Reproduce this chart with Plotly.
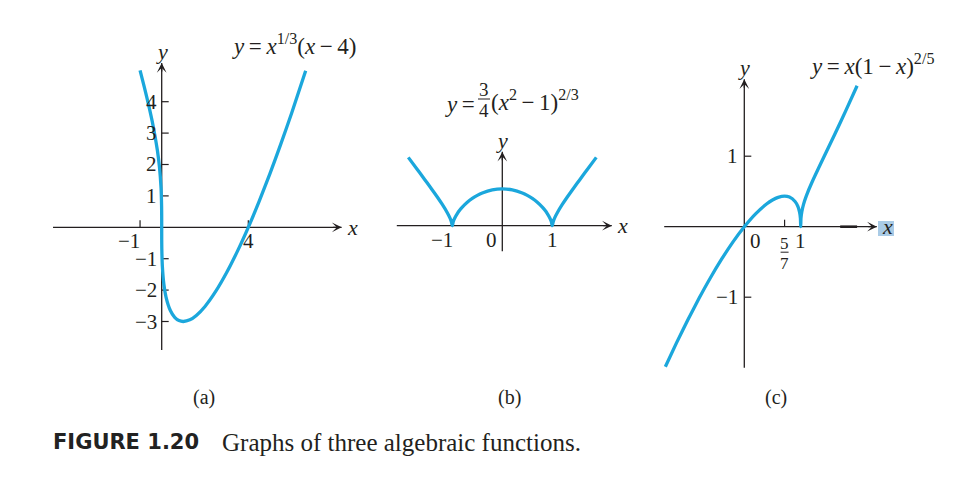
import plotly.graph_objects as go

# Page body has an 8px margin: draw a 951x469 figure and map reference pixels with an 8px offset.
REF_W, REF_H = 967, 485
OFF = 8
W, H = REF_W - 2 * OFF, REF_H - 2 * OFF

# ---------------- data (sampled points read from the three curves) ----------------
# (a) y = x^(1/3)(x-4)
xa = [-1, -0.8, -0.6, -0.4, -0.2, -0.1, -0.03, -0.005, -0.001, 0, 0.001, 0.005, 0.03, 0.1,
      0.2, 0.4, 0.6, 0.8, 1, 1.3, 1.6, 2, 2.5, 3, 3.5, 4, 4.5, 5, 5.5, 6, 6.65]
ya = [5.0, 4.456, 3.880, 3.242, 2.456, 1.903, 1.252, 0.685, 0.400, 0.0, -0.400, -0.683, -1.233, -1.810,
      -2.222, -2.652, -2.868, -2.971, -3.0, -2.947, -2.807, -2.520, -2.036, -1.442, -0.759, 0.0,
      0.826, 1.710, 2.648, 3.634, 4.984]

# (b) y = 3/4 (x^2-1)^(2/3)
xb = [-1.88, -1.7, -1.6, -1.5, -1.4, -1.3, -1.2, -1.1, -1.05, -1.02, -1, -0.98, -0.95, -0.9, -0.85,
      -0.8, -0.7, -0.6, -0.5, -0.4, -0.2, 0, 0.2, 0.4, 0.5, 0.6, 0.7, 0.8, 0.85, 0.9, 0.95, 0.98,
      1, 1.02, 1.05, 1.1, 1.2, 1.3, 1.4, 1.5, 1.6, 1.7, 1.88]
yb = [1.394, 1.147, 1.009, 0.870, 0.730, 0.586, 0.434, 0.265, 0.164, 0.088, 0.0, 0.087, 0.159,
      0.248, 0.319, 0.380, 0.479, 0.557, 0.619, 0.668, 0.730, 0.75, 0.730, 0.668, 0.619, 0.557,
      0.479, 0.380, 0.319, 0.248, 0.159, 0.087, 0.0, 0.088, 0.164, 0.265, 0.434, 0.586, 0.730,
      0.870, 1.009, 1.147, 1.394]

# (c) y = x(1-x)^(2/5)
xc = [-1.4, -1.2, -1.0, -0.8, -0.6, -0.4, -0.2, 0, 0.2, 0.4, 0.5, 0.6, 0.714, 0.8, 0.9, 0.95,
      0.98, 0.995, 1, 1.005, 1.02, 1.05, 1.1, 1.2, 1.4, 1.6, 1.8, 2.0]
yc = [-1.987, -1.645, -1.320, -1.012, -0.724, -0.458, -0.215, 0.0, 0.183, 0.326, 0.379, 0.416,
      0.433, 0.420, 0.358, 0.287, 0.205, 0.120, 0.0, 0.121, 0.213, 0.317, 0.438, 0.630, 0.970,
      1.304, 1.646, 2.0]

# tick labels
a_yticks = [1, 2, 3, 4, -1, -2, -3]
a_ytext = ["1", "2", "3", "4", "\u22121", "\u22122", "\u22123"]
a_xticks = [-1, 4]
a_xtext = ["\u22121", "4"]
b_xticks = [-1, 0, 1]
b_xtext = ["\u22121", "0", "1"]
c_yticks = [1, -1]
c_ytext = ["1", "\u22121"]
c_xticks = [5 / 7, 1]

titles = {
    "a": "<i>y</i>\u2009=\u2009<i>x</i><sup>1/3</sup>(<i>x</i>\u2009\u2212\u20094)",
    "c": "<i>y</i>\u2009=\u2009<i>x</i>(1\u2009\u2212\u2009<i>x</i>)<sup>2/5</sup>",
}
captions = ["(a)", "(b)", "(c)"]

# ---------------- style ----------------
BLUE = "#1ba7dc"
AX = "#231f20"
SERIF = "Liberation Serif"
FS = 21

fig = go.Figure()

def clamp(v):
    return min(1.0, max(0.0, v))

def fx(px):
    return (px - OFF) / W

def fy(py):
    return 1 - (py - OFF) / H

# panel geometry (reference pixels): box, origin pixel, pixels per unit
panels = {
    "a": dict(box=(40, 375, 30, 375), origin=(161.7, 227.3), scale=(21.65, 31.4), n=""),
    "b": dict(box=(385, 640, 75, 270), origin=(502.3, 225.7), scale=(50.0, 49.0), n="2"),
    "c": dict(box=(650, 955, 45, 380), origin=(744.3, 226.7), scale=(56.4, 70.5), n="3"),
}

for key, p in panels.items():
    x0, x1, y0, y1 = p["box"]
    ox, oy = p["origin"]
    sx, sy = p["scale"]
    xr = [(x0 - ox) / sx, (x1 - ox) / sx]
    yr = [(oy - y1) / sy, (oy - y0) / sy]
    n = p["n"]
    fig.update_layout(**{
        f"xaxis{n}": dict(domain=[clamp(fx(x0)), clamp(fx(x1))], range=xr, visible=False,
                          fixedrange=True, anchor=f"y{n}"),
        f"yaxis{n}": dict(domain=[clamp(fy(y1)), clamp(fy(y0))], range=yr, visible=False,
                          fixedrange=True, anchor=f"x{n}"),
    })

def refs(key):
    n = panels[key]["n"]
    return f"x{n}", f"y{n}"

def axes(key, xlo, xhi, ylo, yhi):
    xr_, yr_ = refs(key)
    fig.add_shape(type="line", xref=xr_, yref=yr_, x0=xlo, x1=xhi, y0=0, y1=0,
                  line=dict(color=AX, width=1.3), layer="below")
    fig.add_shape(type="line", xref=xr_, yref=yr_, x0=0, x1=0, y0=ylo, y1=yhi,
                  line=dict(color=AX, width=1.3), layer="below")
    fig.add_annotation(xref=xr_, yref=yr_, x=xhi, y=0, ax=-10, ay=0, text="", showarrow=True,
                       arrowhead=3, arrowsize=1.25, arrowwidth=1.3, arrowcolor=AX)
    fig.add_annotation(xref=xr_, yref=yr_, x=0, y=yhi, ax=0, ay=10, text="", showarrow=True,
                       arrowhead=3, arrowsize=1.25, arrowwidth=1.3, arrowcolor=AX)
    fig.add_annotation(xref=xr_, yref=yr_, x=xhi, y=0, text="<i>x</i>", showarrow=False,
                       xanchor="left", yanchor="middle", xshift=3, yshift=0,
                       font=dict(family=SERIF, size=FS + 1, color=AX))
    fig.add_annotation(xref=xr_, yref=yr_, x=0, y=yhi, text="<i>y</i>", showarrow=False,
                       xanchor="center", yanchor="bottom", yshift=-3,
                       font=dict(family=SERIF, size=FS + 1, color=AX))

def yticks(key, vals, texts, length_px, xshift=-3):
    xr_, yr_ = refs(key)
    sx = panels[key]["scale"][0]
    for v, t in zip(vals, texts):
        fig.add_shape(type="line", xref=xr_, yref=yr_, x0=0, x1=length_px / sx, y0=v, y1=v,
                      line=dict(color=AX, width=1.2), layer="below")
        fig.add_annotation(xref=xr_, yref=yr_, x=0, y=v, text=t, showarrow=False,
                           xanchor="right", yanchor="middle", xshift=xshift,
                           font=dict(family=SERIF, size=FS, color=AX))

def xticks(key, vals, length_px):
    xr_, yr_ = refs(key)
    sy = panels[key]["scale"][1]
    for v in vals:
        fig.add_shape(type="line", xref=xr_, yref=yr_, x0=v, x1=v, y0=0, y1=length_px / sy,
                      line=dict(color=AX, width=1.2), layer="below")

def xlabels(key, vals, texts, shifts, yshift=-14):
    xr_, yr_ = refs(key)
    for v, t, s in zip(vals, texts, shifts):
        fig.add_annotation(xref=xr_, yref=yr_, x=v, y=0, text=t, showarrow=False,
                           xanchor="center", yanchor="middle", xshift=s, yshift=yshift,
                           font=dict(family=SERIF, size=FS, color=AX))

# ---- panel (a)
axes("a", -5.02, 8.31, -3.91, 5.23)
yticks("a", a_yticks, a_ytext, 7)
xticks("a", a_xticks, 7)
xlabels("a", a_xticks, a_xtext, [-11, 0])
fig.add_trace(go.Scatter(x=xa, y=ya, mode="lines", xaxis="x", yaxis="y",
                         line=dict(color=BLUE, width=3.3, shape="spline", smoothing=0.6),
                         hoverinfo="skip", showlegend=False))

# ---- panel (b)
axes("b", -2.11, 2.19, -0.52, 1.51)
xlabels("b", b_xticks, b_xtext, [-10, -11, 0])
fig.add_trace(go.Scatter(x=xb, y=yb, mode="lines", xaxis="x2", yaxis="y2",
                         line=dict(color=BLUE, width=3.3, shape="spline", smoothing=0.5),
                         hoverinfo="skip", showlegend=False))

# ---- panel (c)
axes("c", -1.42, 2.35, -2.0, 2.09)
fig.add_shape(type="line", xref="x3", yref="y3", x0=1.70, x1=2.0, y0=0, y1=0,
              line=dict(color=AX, width=2.6), layer="below")
yticks("c", c_yticks, c_ytext, 7, xshift=-4)
xticks("c", c_xticks, 7)
xlabels("c", [0, 1], ["0", "1"], [11, 0])
# 5/7 stacked fraction label
fig.add_annotation(xref="x3", yref="y3", x=5 / 7, y=0, text="5", showarrow=False,
                   yanchor="middle", yshift=-17, font=dict(family=SERIF, size=17, color=AX))
fig.add_shape(type="line", xref="x3", yref="y3", x0=5 / 7 - 4 / 56.4, x1=5 / 7 + 4 / 56.4,
              y0=-25.5 / 70.5, y1=-25.5 / 70.5, line=dict(color=AX, width=1))
fig.add_annotation(xref="x3", yref="y3", x=5 / 7, y=0, text="7", showarrow=False,
                   yanchor="middle", yshift=-37, font=dict(family=SERIF, size=17, color=AX))
fig.add_trace(go.Scatter(x=xc, y=yc, mode="lines", xaxis="x3", yaxis="y3",
                         line=dict(color=BLUE, width=3.3, shape="spline", smoothing=0.5),
                         hoverinfo="skip", showlegend=False))
# highlight box behind the x label of (c)
fig.add_shape(type="rect", xref="paper", yref="paper", x0=fx(878), x1=fx(894),
              y0=fy(236), y1=fy(221), fillcolor="#a9cbe6", line=dict(width=0),
              layer="below")

def ptxt(px, py, text, size=FS, xanchor="center", family=SERIF, color=AX):
    fig.add_annotation(xref="paper", yref="paper", x=fx(px), y=fy(py), text=text,
                       showarrow=False, xanchor=xanchor, yanchor="middle",
                       font=dict(family=family, size=size, color=color))

# titles
ptxt(294, 44, titles["a"], size=23)
ptxt(872, 64, titles["c"], size=23)
# title (b) with stacked fraction
ptxt(477, 104, "<i>y</i>\u2009=", size=23, xanchor="right")
ptxt(484, 89, "3", size=19)
fig.add_shape(type="line", xref="paper", yref="paper", x0=fx(478), x1=fx(490),
              y0=fy(99), y1=fy(99), line=dict(color=AX, width=1))
ptxt(484, 110, "4", size=19)
ptxt(489, 100, "(<i>x</i><sup>2</sup>\u2009\u2212\u20091)<sup>2/3</sup>", size=23, xanchor="left")

# captions
for cx, t in zip([204, 509, 776], captions):
    ptxt(cx, 397, t, size=20)
ptxt(51, 442, "<b>FIGURE 1.20</b>", size=21, xanchor="left", family="DejaVu Sans",
     color="#222")
ptxt(220, 442, "Graphs of three algebraic functions.", size=25, xanchor="left")

fig.update_layout(width=W, height=H, margin=dict(l=0, r=0, t=0, b=0),
                  paper_bgcolor="white", plot_bgcolor="white", showlegend=False)

fig.write_html("out.html")
